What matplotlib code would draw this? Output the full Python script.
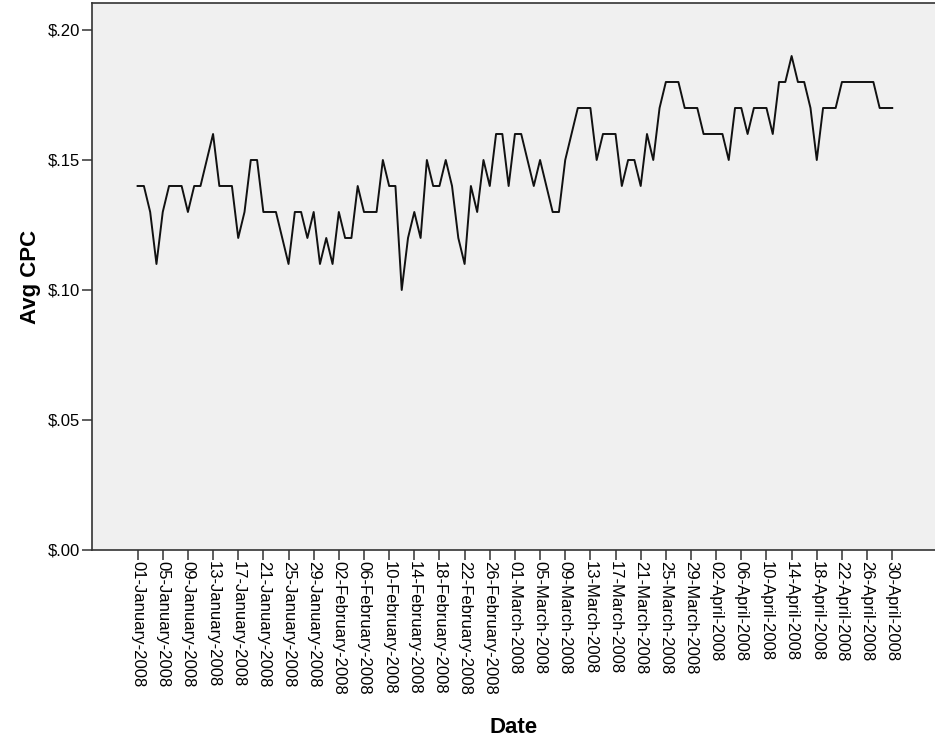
import matplotlib
matplotlib.use("Agg")
import matplotlib.pyplot as plt
import matplotlib.dates as mdates
from matplotlib.ticker import FuncFormatter, FixedLocator
import pandas as pd


START = "2008-01-01"
END = "2008-04-30"

# avg cost per click per day
avg_cpc = [
    0.14, 0.14, 0.13, 0.11, 0.13, 0.14, 0.14, 0.14, 0.13, 0.14,
    0.14, 0.15, 0.16, 0.14, 0.14, 0.14, 0.12, 0.13, 0.15, 0.15,
    0.13, 0.13, 0.13, 0.12, 0.11, 0.13, 0.13, 0.12, 0.13, 0.11,
    0.12, 0.11, 0.13, 0.12, 0.12, 0.14, 0.13, 0.13, 0.13, 0.15,
    0.14, 0.14, 0.10, 0.12, 0.13, 0.12, 0.15, 0.14, 0.14, 0.15,
    0.14, 0.12, 0.11, 0.14, 0.13, 0.15, 0.14, 0.16, 0.16, 0.14,
    0.16, 0.16, 0.15, 0.14, 0.15, 0.14, 0.13, 0.13, 0.15, 0.16,
    0.17, 0.17, 0.17, 0.15, 0.16, 0.16, 0.16, 0.14, 0.15, 0.15,
    0.14, 0.16, 0.15, 0.17, 0.18, 0.18, 0.18, 0.17, 0.17, 0.17,
    0.16, 0.16, 0.16, 0.16, 0.15, 0.17, 0.17, 0.16, 0.17, 0.17,
    0.17, 0.16, 0.18, 0.18, 0.19, 0.18, 0.18, 0.17, 0.15, 0.17,
    0.17, 0.17, 0.18, 0.18, 0.18, 0.18, 0.18, 0.18, 0.17, 0.17,
    0.17,
]
y_ticks = [0.00, 0.05, 0.10, 0.15, 0.20]
TICK_EVERY = 4

dates = pd.date_range(START, END, freq="D")

plt.rcParams["font.family"] = ["Liberation Sans", "DejaVu Sans"]

fig = plt.figure(figsize=(9.35, 7.4), dpi=100)
ax = fig.add_axes([0.0984, 0.2568, 0.9016, 0.7392])
ax.set_facecolor("#f0f0f0")

ax.plot(dates, avg_cpc, color="#111111", linewidth=1.4)

ax.set_xlim(dates[0] - pd.Timedelta(days=7.25), dates[-1] + pd.Timedelta(days=6.8))
ax.set_ylim(0, 0.2104)

ax.xaxis.set_major_locator(FixedLocator(mdates.date2num(dates[::TICK_EVERY])))
ax.xaxis.set_major_formatter(mdates.DateFormatter("%d-%B-%Y"))
for lbl in ax.get_xticklabels():
    lbl.set_rotation(270)
    lbl.set_ha("center")
    lbl.set_va("top")

ax.set_yticks(y_ticks)
ax.yaxis.set_major_formatter(FuncFormatter(lambda v, _: "$" + f"{v:.2f}".lstrip("0")))

ax.tick_params(axis="x", length=7, width=1.1, pad=1, labelsize=12, color="#333333")
ax.tick_params(axis="y", length=7, width=1.1, pad=1.5, labelsize=12, color="#333333")

for side in ["left", "bottom", "top"]:
    ax.spines[side].set_color("#333333")
    ax.spines[side].set_linewidth(1.2)
ax.spines["right"].set_visible(False)

ax.set_xlabel("Date", fontsize=16, fontweight="bold", labelpad=16)
ax.set_ylabel("Avg CPC", fontsize=16, fontweight="bold", labelpad=5)

fig.savefig("out.png", dpi=100)
